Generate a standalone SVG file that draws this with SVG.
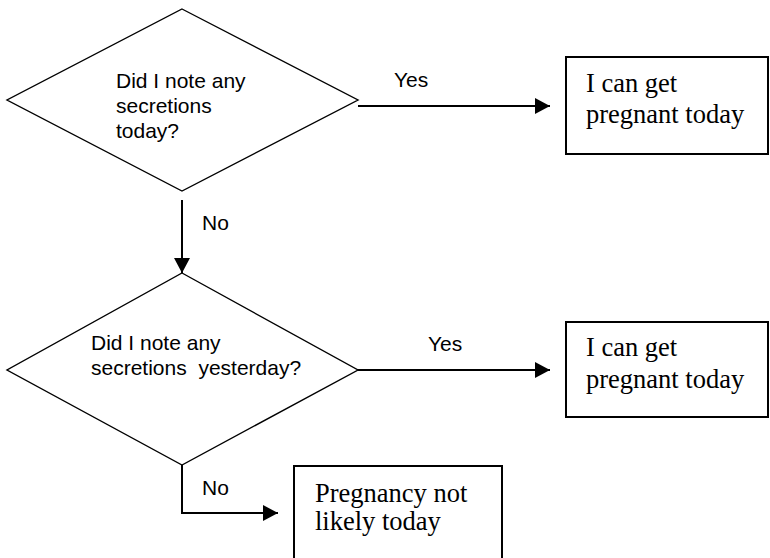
<svg xmlns="http://www.w3.org/2000/svg" width="770" height="558" viewBox="0 0 770 558">
<style>
.dia{fill:#fff;stroke:#000;stroke-width:1.4}
.box{fill:#fff;stroke:#000;stroke-width:2}
.con{fill:none;stroke:#000;stroke-width:2}
.sans{font-family:"Liberation Sans",Arial,sans-serif;font-size:21px;fill:#000}
.serif{font-family:"Liberation Serif","Times New Roman",serif;font-size:26.5px;fill:#000}
</style>
<defs>
<marker id="ah" markerWidth="15" markerHeight="16" refX="15" refY="8" orient="auto" markerUnits="userSpaceOnUse">
<path d="M0,0 L15,8 L0,16 Z" fill="#000"/>
</marker>
</defs>
<rect width="770" height="558" fill="#fff"/>
<g id="q1">
<polygon class="dia" points="182,9 358,100 182,191 7,100"/>
<text class="sans"><tspan x="116" y="88">Did I note any</tspan><tspan x="116" y="113">secretions</tspan><tspan x="116" y="138">today?</tspan></text>
</g>
<g id="r1">
<rect class="box" x="566" y="57" width="202" height="97"/>
<text class="serif"><tspan x="586" y="92">I can get</tspan><tspan x="586" y="123">pregnant today</tspan></text>
</g>
<g id="q2">
<polygon class="dia" points="182,273 358,370 182,465 7,370"/>
<text class="sans" xml:space="preserve"><tspan x="91" y="350">Did I note any</tspan><tspan x="91" y="375">secretions  yesterday?</tspan></text>
</g>
<g id="r2">
<rect class="box" x="566" y="322" width="202" height="95"/>
<text class="serif"><tspan x="586" y="356">I can get</tspan><tspan x="586" y="388">pregnant today</tspan></text>
</g>
<g id="r3">
<rect class="box" x="294" y="466" width="208" height="110"/>
<text class="serif"><tspan x="315" y="502">Pregnancy not</tspan><tspan x="315" y="530">likely today</tspan></text>
</g>
<g id="connectors">
<line class="con" x1="358" y1="106" x2="550" y2="106" marker-end="url(#ah)"/>
<text class="sans" x="394" y="87">Yes</text>
<line class="con" x1="182" y1="200" x2="182" y2="273" marker-end="url(#ah)"/>
<text class="sans" x="202" y="230">No</text>
<line class="con" x1="358" y1="370" x2="550" y2="370" marker-end="url(#ah)"/>
<text class="sans" x="428" y="351">Yes</text>
<polyline class="con" points="182,465 182,513 278,513" marker-end="url(#ah)"/>
<text class="sans" x="202" y="495">No</text>
</g>
</svg>
